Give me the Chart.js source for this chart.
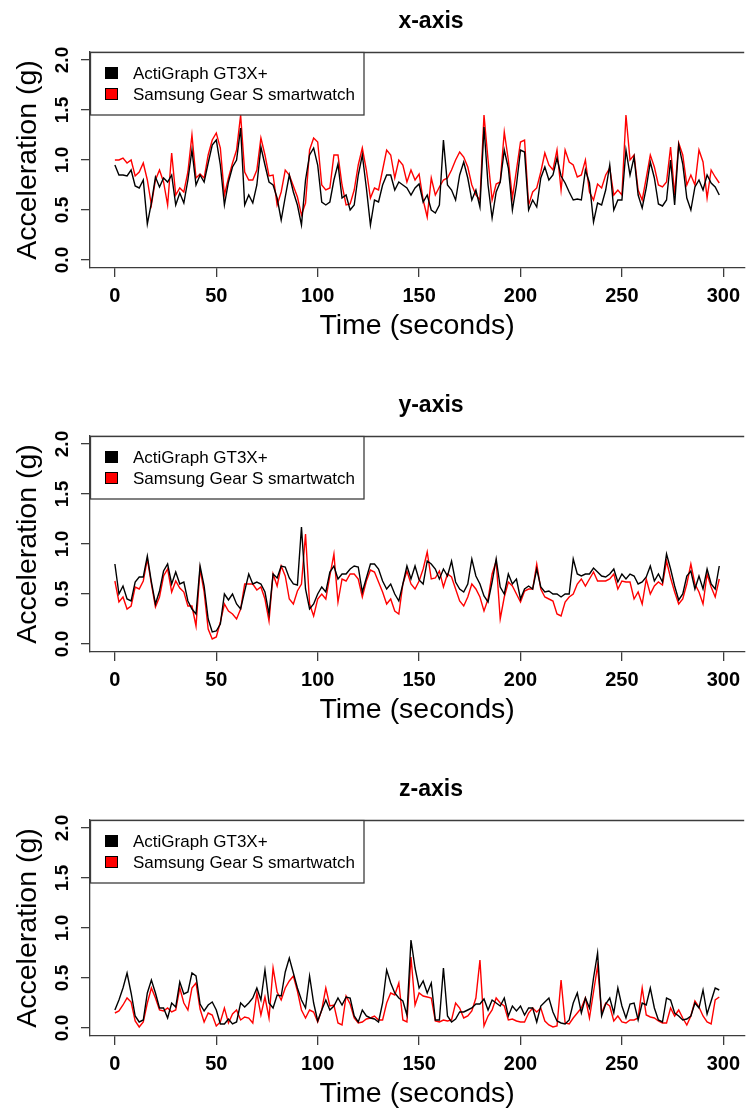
<!DOCTYPE html>
<html>
<head>
<meta charset="utf-8">
<script src="https://cdn.jsdelivr.net/npm/chart.js@4.4.1/dist/chart.umd.min.js"></script>
<style>
  html, body { margin: 0; padding: 0; background: #fff; overflow: hidden; }
  .panel { position: absolute; left: 0; width: 747px; height: 384px; }
</style>
</head>
<body>
<div class="panel" style="top:0"><canvas id="chartX" width="747" height="384"></canvas></div>
<div class="panel" style="top:384px"><canvas id="chartY" width="747" height="384"></canvas></div>
<div class="panel" style="top:768px"><canvas id="chartZ" width="747" height="384"></canvas></div>
<script>
// sampling grid (seconds), one value every 2 s
const seconds = Array.from({ length: 150 }, (_, i) => i * 2);
const xTicks = [0, 50, 100, 150, 200, 250, 300];
const yTicks = [0, 0.5, 1.0, 1.5, 2.0];
const seriesNames = ['ActiGraph GT3X+', 'Samsung Gear S smartwatch'];
const seriesColors = ['#000000', '#ff0000'];
const panelTitles = ['x-axis', 'y-axis', 'z-axis'];

// x-axis panel
const actiX = [
  0.95, 0.85, 0.85, 0.84, 0.90, 0.74, 0.72, 0.80, 0.36, 0.57,
  0.83, 0.73, 0.82, 0.78, 0.85, 0.55, 0.67, 0.57, 0.80, 1.10,
  0.75, 0.85, 0.78, 0.97, 1.15, 1.20, 0.95, 0.55, 0.78, 0.93,
  1.00, 1.32, 0.55, 0.65, 0.57, 0.75, 1.13, 0.95, 0.78, 0.75,
  0.62, 0.40, 0.63, 0.85, 0.68, 0.55, 0.35, 0.80, 1.05, 1.12,
  0.95, 0.58, 0.55, 0.58, 0.80, 0.96, 0.62, 0.65, 0.50, 0.55,
  0.85, 1.05, 0.72, 0.35, 0.60, 0.58, 0.75, 0.85, 0.85, 0.70,
  0.78, 0.75, 0.72, 0.65, 0.72, 0.76, 0.58, 0.65, 0.50, 0.47,
  0.55, 1.20, 0.75, 0.70, 0.60, 0.85, 0.98, 0.82, 0.60, 0.70,
  0.53, 1.33, 0.75, 0.42, 0.68, 0.78, 1.10, 0.92, 0.50, 0.75,
  1.10, 1.08, 0.50, 0.60, 0.53, 0.82, 0.93, 0.80, 0.85, 1.02,
  0.84, 0.77, 0.68, 0.60, 0.61, 0.60, 0.90, 0.77, 0.38, 0.57,
  0.55, 0.70, 0.95, 0.50, 0.60, 0.60, 1.10, 0.85, 1.03, 0.65,
  0.52, 0.72, 0.98, 0.82, 0.56, 0.54, 0.60, 1.00, 0.55, 1.15,
  0.96, 0.62, 0.50, 0.73, 0.80, 0.70, 0.85, 0.77, 0.73, 0.65
];
const gearX = [
  1.00, 1.00, 1.02, 0.97, 1.00, 0.84, 0.88, 0.97, 0.80, 0.55,
  0.80, 0.90, 0.78, 0.55, 1.07, 0.65, 0.72, 0.68, 0.88, 1.25,
  0.82, 0.86, 0.82, 1.05, 1.20, 1.27, 1.12, 0.65, 0.82, 0.97,
  1.10, 1.45, 0.88, 0.80, 0.80, 0.90, 1.22, 1.05, 0.84, 0.85,
  0.55, 0.68, 0.90, 0.85, 0.74, 0.63, 0.45, 0.57, 1.10, 1.22,
  1.18, 0.75, 0.70, 0.72, 1.05, 1.05, 0.75, 0.55, 0.56, 0.70,
  0.95, 1.12, 0.90, 0.62, 0.72, 0.70, 0.90, 1.10, 1.05, 0.82,
  1.00, 0.95, 0.78, 0.90, 0.80, 0.86, 0.60, 0.43, 0.82, 0.65,
  0.73, 0.80, 0.82, 0.90, 1.00, 1.08, 1.03, 0.93, 0.75, 0.65,
  0.60, 1.45, 1.00, 0.60, 0.76, 0.78, 1.28, 1.00, 0.62, 0.90,
  1.18, 1.20, 0.55, 0.68, 0.72, 0.88, 1.07, 0.95, 0.90, 1.10,
  0.70, 1.10, 0.98, 0.95, 0.83, 0.85, 1.00, 0.68, 0.60, 0.76,
  0.72, 0.85, 0.92, 0.65, 0.70, 0.65, 1.45, 1.00, 1.05, 0.70,
  0.60, 0.82, 1.05, 0.93, 0.75, 0.73, 0.78, 1.13, 0.65, 1.17,
  1.05, 0.75, 0.85, 0.75, 1.10, 0.98, 0.62, 0.90, 0.83, 0.77
];

// y-axis panel
const actiY = [
  0.80, 0.50, 0.58, 0.45, 0.43, 0.62, 0.67, 0.67, 0.88, 0.62,
  0.40, 0.53, 0.73, 0.80, 0.60, 0.72, 0.60, 0.62, 0.43, 0.35,
  0.30, 0.78, 0.58, 0.25, 0.12, 0.13, 0.20, 0.50, 0.44, 0.50,
  0.40, 0.35, 0.53, 0.70, 0.60, 0.62, 0.60, 0.52, 0.30, 0.70,
  0.66, 0.78, 0.77, 0.66, 0.60, 0.59, 1.17, 0.55, 0.35, 0.40,
  0.50, 0.57, 0.52, 0.72, 0.78, 0.65, 0.70, 0.70, 0.75, 0.78,
  0.77, 0.52, 0.66, 0.80, 0.80, 0.75, 0.63, 0.55, 0.60, 0.50,
  0.43, 0.60, 0.78, 0.65, 0.78, 0.64, 0.60, 0.83, 0.80, 0.75,
  0.65, 0.75, 0.68, 0.83, 0.62, 0.55, 0.52, 0.60, 0.85, 0.68,
  0.60, 0.48, 0.42, 0.62, 0.85, 0.57, 0.50, 0.70, 0.60, 0.65,
  0.45, 0.55, 0.58, 0.55, 0.75, 0.57, 0.52, 0.53, 0.50, 0.50,
  0.47, 0.50, 0.50, 0.85, 0.70, 0.68, 0.70, 0.70, 0.76, 0.72,
  0.68, 0.67, 0.70, 0.75, 0.62, 0.70, 0.65, 0.70, 0.68, 0.60,
  0.62, 0.67, 0.78, 0.63, 0.70, 0.62, 0.90, 0.75, 0.58, 0.44,
  0.50, 0.68, 0.73, 0.55, 0.68, 0.55, 0.75, 0.60, 0.55, 0.78
];
const gearY = [
  0.63, 0.42, 0.47, 0.35, 0.38, 0.57, 0.55, 0.63, 0.85, 0.60,
  0.37, 0.47, 0.68, 0.75, 0.52, 0.63, 0.56, 0.52, 0.38, 0.38,
  0.18, 0.75, 0.52, 0.15, 0.05, 0.07, 0.22, 0.40, 0.33, 0.30,
  0.25, 0.35, 0.60, 0.60, 0.60, 0.54, 0.57, 0.45, 0.23, 0.70,
  0.58, 0.78, 0.68, 0.45, 0.40, 0.53, 0.60, 1.10, 0.40, 0.28,
  0.45, 0.50, 0.45, 0.68, 0.90, 0.42, 0.65, 0.63, 0.70, 0.70,
  0.65, 0.47, 0.63, 0.74, 0.72, 0.62, 0.52, 0.40, 0.45, 0.33,
  0.30, 0.60, 0.73, 0.60, 0.55, 0.63, 0.75, 0.92, 0.65, 0.66,
  0.73, 0.57, 0.70, 0.67, 0.55, 0.43, 0.38, 0.47, 0.60, 0.55,
  0.47, 0.33, 0.45, 0.70, 0.83, 0.25, 0.47, 0.62, 0.58, 0.50,
  0.42, 0.53, 0.55, 0.55, 0.80, 0.55, 0.47, 0.45, 0.43, 0.30,
  0.28, 0.42, 0.47, 0.50, 0.60, 0.65, 0.58, 0.65, 0.72, 0.63,
  0.63, 0.63, 0.65, 0.70, 0.55, 0.63, 0.62, 0.62, 0.45, 0.52,
  0.40, 0.65, 0.50, 0.58, 0.62, 0.59, 0.83, 0.66, 0.52, 0.40,
  0.45, 0.60, 0.80, 0.60, 0.52, 0.40, 0.70, 0.57, 0.47, 0.65
];

// z-axis panel
const actiZ = [
  0.18, 0.28, 0.40, 0.55, 0.35, 0.12, 0.06, 0.08, 0.35, 0.48,
  0.35, 0.20, 0.20, 0.10, 0.25, 0.21, 0.46, 0.34, 0.36, 0.55,
  0.52, 0.24, 0.17, 0.23, 0.26, 0.18, 0.04, 0.04, 0.09, 0.04,
  0.06, 0.25, 0.21, 0.25, 0.30, 0.40, 0.28, 0.58, 0.25, 0.20,
  0.33, 0.32, 0.56, 0.70, 0.55, 0.40, 0.28, 0.20, 0.52, 0.25,
  0.07, 0.18, 0.28, 0.18, 0.22, 0.30, 0.23, 0.31, 0.30, 0.12,
  0.06, 0.18, 0.12, 0.10, 0.09, 0.06, 0.25, 0.58, 0.45, 0.35,
  0.30, 0.27, 0.13, 0.88, 0.60, 0.40, 0.47, 0.35, 0.45, 0.08,
  0.08, 0.60, 0.12, 0.06, 0.09, 0.16, 0.16, 0.18, 0.20, 0.24,
  0.24, 0.29, 0.18, 0.28, 0.25, 0.22, 0.30, 0.12, 0.22, 0.17,
  0.22, 0.13, 0.20, 0.20, 0.06, 0.22, 0.26, 0.30, 0.16, 0.07,
  0.05, 0.04, 0.08, 0.25, 0.35, 0.15, 0.30, 0.20, 0.50, 0.75,
  0.12, 0.24, 0.30, 0.15, 0.40, 0.22, 0.10, 0.24, 0.25, 0.08,
  0.25, 0.23, 0.40, 0.20, 0.08, 0.06, 0.30, 0.28, 0.15, 0.12,
  0.08, 0.09, 0.12, 0.25, 0.20, 0.38, 0.14, 0.27, 0.40, 0.38
];
const gearZ = [
  0.15, 0.17, 0.23, 0.30, 0.26, 0.07, 0.01, 0.06, 0.25, 0.40,
  0.30, 0.18, 0.17, 0.20, 0.16, 0.18, 0.40, 0.25, 0.18, 0.40,
  0.45, 0.19, 0.06, 0.15, 0.13, 0.02, 0.06, 0.20, 0.05, 0.14,
  0.18, 0.08, 0.11, 0.10, 0.05, 0.35, 0.13, 0.31, 0.10, 0.60,
  0.36, 0.28, 0.40, 0.47, 0.52, 0.37, 0.18, 0.10, 0.18, 0.16,
  0.06, 0.18, 0.40, 0.22, 0.23, 0.05, 0.03, 0.32, 0.24, 0.10,
  0.05, 0.06, 0.09, 0.10, 0.12, 0.08, 0.08, 0.25, 0.35, 0.33,
  0.45, 0.08, 0.06, 0.71, 0.23, 0.35, 0.32, 0.31, 0.30, 0.07,
  0.06, 0.08, 0.07, 0.08, 0.25, 0.20, 0.10, 0.12, 0.17, 0.30,
  0.68, 0.02, 0.12, 0.18, 0.30, 0.25, 0.22, 0.08, 0.09, 0.07,
  0.06, 0.06, 0.15, 0.20, 0.16, 0.20, 0.07, 0.03, 0.01, 0.02,
  0.48, 0.05, 0.04, 0.10, 0.15, 0.20, 0.30, 0.10, 0.36, 0.62,
  0.15, 0.25, 0.22, 0.07, 0.12, 0.06, 0.05, 0.08, 0.08, 0.10,
  0.40, 0.13, 0.11, 0.10, 0.07, 0.05, 0.05, 0.20, 0.12, 0.18,
  0.10, 0.03, 0.12, 0.27, 0.21, 0.12, 0.06, 0.04, 0.28, 0.31
];

const FONT = '"Liberation Sans", Arial, sans-serif';
const AXIS = '#3c3c3c';

// R-style extras: top edge of the box, rotated y labels, title, legend
const rFrame = {
  id: 'rFrame',
  afterDraw(chart, args, opts) {
    const { ctx, chartArea: a, scales: { y } } = chart;
    ctx.save();
    ctx.strokeStyle = AXIS;
    ctx.lineWidth = 1.3;
    ctx.beginPath();
    ctx.moveTo(a.left, a.top + 0.5);
    ctx.lineTo(a.right, a.top + 0.5);
    ctx.stroke();

    ctx.fillStyle = '#000';
    ctx.textAlign = 'center';
    ctx.textBaseline = 'middle';
    ctx.font = 'bold 19px ' + FONT;
    yTicks.forEach(v => {
      ctx.save();
      ctx.translate(63, y.getPixelForValue(v));
      ctx.rotate(-Math.PI / 2);
      ctx.fillText(v.toFixed(1), 0, 0);
      ctx.restore();
    });

    ctx.font = 'bold 23px ' + FONT;
    ctx.fillText(opts.title, 431, 22);

    // legend box
    ctx.fillStyle = '#fff';
    ctx.fillRect(a.left, a.top, 274, 63);
    ctx.strokeStyle = AXIS;
    ctx.lineWidth = 1.3;
    ctx.strokeRect(a.left + 0.5, a.top + 0.5, 273.5, 62.5);
    ctx.font = '17px ' + FONT;
    ctx.textAlign = 'left';
    seriesNames.forEach((name, i) => {
      const cy = a.top + 21 + i * 21;
      ctx.fillStyle = seriesColors[i];
      ctx.fillRect(a.left + 15, cy - 6, 13, 12);
      ctx.strokeStyle = '#000';
      ctx.lineWidth = 1;
      ctx.strokeRect(a.left + 15.5, cy - 5.5, 12, 11);
      ctx.fillStyle = '#000';
      ctx.fillText(name, a.left + 43, cy + 1);
    });
    ctx.restore();
  }
};

function makePanel(canvasId, title, acti, gear) {
  const ds = (values, i) => ({
    label: seriesNames[i],
    data: seconds.map((t, k) => ({ x: t, y: values[k] })),
    borderColor: seriesColors[i],
    borderWidth: 1.4,
    pointRadius: 0,
    tension: 0,
    fill: false,
  });
  const gridOpts = { drawOnChartArea: false, drawTicks: true, tickLength: 9, color: AXIS, lineWidth: 1.3 };
  const borderOpts = { display: true, color: AXIS, width: 1.3 };

  return new Chart(document.getElementById(canvasId), {
    type: 'line',
    data: { datasets: [ds(acti, 0), ds(gear, 1)] },
    options: {
      responsive: false,
      animation: false,
      events: [],
      layout: { padding: { top: 52, left: 0, right: 0, bottom: 0 } },
      plugins: {
        legend: { display: false },
        tooltip: { enabled: false },
        rFrame: { title },
      },
      scales: {
        x: {
          type: 'linear',
          min: -12.27,
          max: 310.3,
          afterBuildTicks: s => { s.ticks = xTicks.map(v => ({ value: v })); },
          afterFit: s => { s.height = 384 - 268; },
          grid: gridOpts,
          border: borderOpts,
          ticks: {
            color: '#000',
            font: { family: FONT, size: 20, weight: 'bold' },
            padding: 7,
            maxRotation: 0,
            autoSkip: false,
            callback: v => String(v),
          },
          title: {
            display: true,
            text: 'Time (seconds)',
            color: '#000',
            font: { family: FONT, size: 28.5 },
            padding: { top: 0, bottom: 41 },
          },
        },
        y: {
          type: 'linear',
          min: -0.08,
          max: 2.08,
          afterBuildTicks: s => { s.ticks = yTicks.map(v => ({ value: v })); },
          afterFit: s => { s.width = 90; },
          grid: gridOpts,
          border: borderOpts,
          ticks: { display: false },
          title: {
            display: true,
            text: 'Acceleration (g)',
            color: '#000',
            font: { family: FONT, size: 28.5 },
            padding: { top: 11, bottom: 0 },
          },
        },
      },
    },
    plugins: [rFrame],
  });
}

makePanel('chartX', panelTitles[0], actiX, gearX);
makePanel('chartY', panelTitles[1], actiY, gearY);
makePanel('chartZ', panelTitles[2], actiZ, gearZ);
</script>
</body>
</html>
